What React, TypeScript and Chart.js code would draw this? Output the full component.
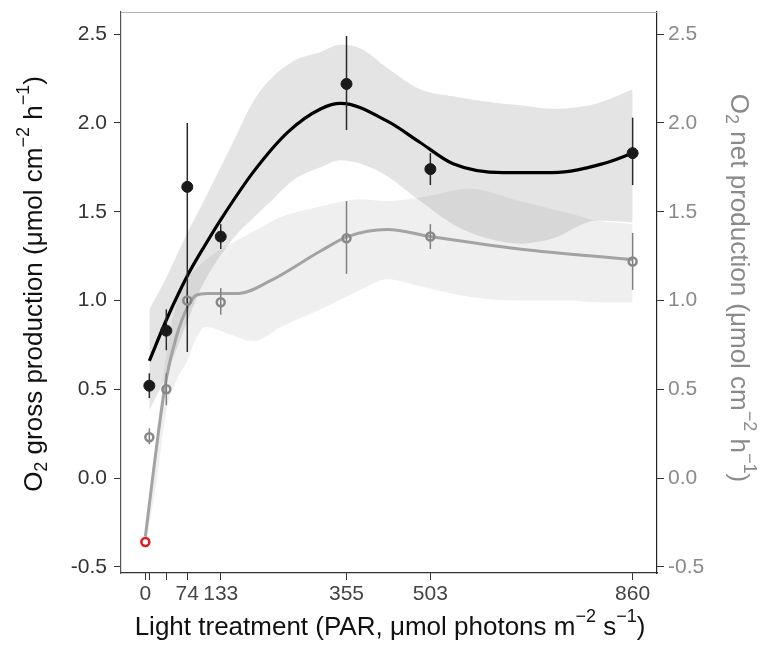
import React, { useEffect, useRef } from 'react';
import { Chart, registerables } from 'chart.js';

Chart.register(...registerables);

// ---- Data ----
const lightLevels = [7, 37, 74, 133, 355, 503, 860];
const grossMean = [0.52, 0.83, 1.64, 1.36, 2.22, 1.74, 1.83];
const grossLow = [0.45, 0.72, 0.71, 1.29, 1.96, 1.65, 1.65];
const grossHigh = [0.59, 0.95, 2.0, 1.43, 2.49, 1.83, 2.03];

const netMean = [0.23, 0.5, 1.0, 0.99, 1.35, 1.36, 1.22];
const netLow = [0.19, 0.41, 0.94, 0.92, 1.15, 1.29, 1.06];
const netHigh = [0.28, 0.59, 1.06, 1.07, 1.56, 1.43, 1.38];

const outlierX = [0];
const outlierY = [-0.36];

const grossFitX = [7, 37, 76, 105, 134, 192, 252, 310, 345, 427, 485, 543, 631, 719, 807, 860];
const grossFitY = [0.66, 0.89, 1.15, 1.31, 1.46, 1.73, 1.95, 2.08, 2.11, 2.01, 1.89, 1.77, 1.72, 1.72, 1.77, 1.83];

const netFitX = [0, 12, 24, 37, 55, 74, 90, 110, 165, 220, 310, 357, 427, 503, 660, 860];
const netFitY = [-0.33, -0.02, 0.28, 0.56, 0.8, 0.96, 1.03, 1.04, 1.04, 1.11, 1.28, 1.36, 1.4, 1.36, 1.29, 1.23];

const grossBandX = [7, 37, 74, 100, 150, 192, 222, 262, 309, 344, 380, 427, 485, 543, 603, 662, 720, 797, 860];
const grossBandHigh = [0.95, 1.13, 1.38, 1.54, 1.86, 2.13, 2.25, 2.35, 2.4, 2.44, 2.42, 2.31, 2.19, 2.15, 2.12, 2.1, 2.08, 2.11, 2.19];
const grossBandLow = [0.38, 0.58, 0.88, 1.08, 1.33, 1.47, 1.56, 1.68, 1.75, 1.79, 1.77, 1.7, 1.56, 1.43, 1.35, 1.32, 1.35, 1.45, 1.44];

const netBandX = [0, 20, 37, 55, 74, 90, 107, 140, 192, 239, 309, 380, 427, 485, 573, 661, 749, 797, 860];
const netBandHigh = [-0.28, 0.24, 0.7, 0.98, 1.12, 1.18, 1.23, 1.3, 1.39, 1.47, 1.53, 1.57, 1.56, 1.58, 1.63, 1.56, 1.49, 1.45, 1.43];
const netBandLow = [-0.38, -0.02, 0.38, 0.55, 0.66, 0.79, 0.85, 0.82, 0.77, 0.85, 0.95, 1.06, 1.12, 1.08, 1.02, 1.0, 1.0, 0.99, 0.99];

const xTickValues = [0, 7, 37, 74, 133, 355, 503, 860];
const xTickLabels = [0, 74, 133, 355, 503, 860];
const yTickValues = [-0.5, 0, 0.5, 1.0, 1.5, 2.0, 2.5];

type Part = { t: string; s?: 'sup' | 'sub' };
const xTitle: Part[] = [
  { t: 'Light treatment (PAR, \u03bcmol photons m' },
  { t: '\u22122', s: 'sup' },
  { t: ' s' },
  { t: '\u22121', s: 'sup' },
  { t: ')' },
];
const yLeftTitle: Part[] = [
  { t: 'O' },
  { t: '2', s: 'sub' },
  { t: ' gross production (\u03bcmol cm' },
  { t: '\u22122', s: 'sup' },
  { t: ' h' },
  { t: '\u22121', s: 'sup' },
  { t: ')' },
];
const yRightTitle: Part[] = [
  { t: 'O' },
  { t: '2', s: 'sub' },
  { t: ' net production (\u03bcmol cm' },
  { t: '\u22122', s: 'sup' },
  { t: ' h' },
  { t: '\u22121', s: 'sup' },
  { t: ')' },
];

const FONT = '"Liberation Sans", Arial, sans-serif';

function zip(xs: number[], ys: number[]) {
  return xs.map((x, i) => ({ x, y: ys[i] }));
}

function drawRich(
  ctx: CanvasRenderingContext2D,
  parts: Part[],
  x: number,
  y: number,
  angle: number,
  size: number,
  color: string
) {
  const big = `${size}px ${FONT}`;
  const small = `${Math.round(size * 0.68)}px ${FONT}`;
  ctx.save();
  ctx.translate(x, y);
  ctx.rotate(angle);
  let w = 0;
  for (const p of parts) {
    ctx.font = p.s ? small : big;
    w += ctx.measureText(p.t).width;
  }
  let cx = -w / 2;
  ctx.fillStyle = color;
  ctx.textBaseline = 'middle';
  ctx.textAlign = 'left';
  for (const p of parts) {
    ctx.font = p.s ? small : big;
    const dy = p.s === 'sup' ? -size * 0.42 : p.s === 'sub' ? size * 0.28 : 0;
    ctx.fillText(p.t, cx, dy);
    cx += ctx.measureText(p.t).width;
  }
  ctx.restore();
}

const NET_PTS_INDEX = 7;

const extrasPlugin = {
  id: 'extras',
  beforeDatasetDraw(chart: any, args: any) {
    if (args.index !== NET_PTS_INDEX) return;
    const { ctx, scales } = chart;
    const xs = scales.x;
    const ys = scales.y;
    ctx.save();
    ctx.lineWidth = 1.5;
    ctx.strokeStyle = '#7f7f7f';
    lightLevels.forEach((lv, i) => {
      const px = xs.getPixelForValue(lv);
      ctx.beginPath();
      ctx.moveTo(px, ys.getPixelForValue(netLow[i]));
      ctx.lineTo(px, ys.getPixelForValue(netHigh[i]));
      ctx.stroke();
    });
    ctx.strokeStyle = '#2a2a2a';
    lightLevels.forEach((lv, i) => {
      const px = xs.getPixelForValue(lv);
      ctx.beginPath();
      ctx.moveTo(px, ys.getPixelForValue(grossLow[i]));
      ctx.lineTo(px, ys.getPixelForValue(grossHigh[i]));
      ctx.stroke();
    });
    ctx.restore();
  },
  afterDraw(chart: any) {
    const { ctx, chartArea } = chart;
    ctx.save();
    ctx.strokeStyle = '#b5b5b5';
    ctx.lineWidth = 1;
    ctx.beginPath();
    ctx.moveTo(chartArea.left, chartArea.top + 0.5);
    ctx.lineTo(chartArea.right, chartArea.top + 0.5);
    ctx.stroke();
    ctx.restore();
    drawRich(ctx, xTitle, 390, 628, 0, 26, '#111');
    drawRich(ctx, yLeftTitle, 35, 284, -Math.PI / 2, 26, '#111');
    drawRich(ctx, yRightTitle, 738, 288, Math.PI / 2, 26, '#8a8a8a');
  },
};

const noPoint = { pointRadius: 0, pointHoverRadius: 0 };

export default function App() {
  const ref = useRef<HTMLCanvasElement | null>(null);
  useEffect(() => {
    document.body.style.margin = '0';
    if (!ref.current) return;
    const yCommon = (position: 'left' | 'right', color: string, width: number, pad: number) => ({
      type: 'linear' as const,
      position,
      min: -0.535,
      max: 2.625,
      afterBuildTicks: (scale: any) => {
        scale.ticks = yTickValues.map((v) => ({ value: v }));
      },
      afterFit: (scale: any) => {
        scale.width = width;
        scale.paddingTop = 0;
        scale.paddingBottom = 0;
      },
      ticks: {
        color,
        font: { family: FONT, size: 21 },
        padding: pad,
        callback: (v: any) => Number(v).toFixed(1),
      },
      grid: { display: true, drawOnChartArea: false, drawTicks: true, tickLength: 7, color: '#333', lineWidth: 1 },
      border: { display: true, color: position === 'left' ? '#555' : '#222', width: 1.2 },
    });

    const chart = new Chart(ref.current, {
      type: 'line',
      data: {
        datasets: [
          // 0: net band lower
          {
            data: zip(netBandX, netBandLow),
            borderWidth: 0,
            borderColor: 'rgba(0,0,0,0)',
            fill: false,
            cubicInterpolationMode: 'monotone',
            order: 10,
            ...noPoint,
          } as any,
          // 1: net band upper
          {
            data: zip(netBandX, netBandHigh),
            borderWidth: 0,
            borderColor: 'rgba(0,0,0,0)',
            backgroundColor: 'rgba(150,150,150,0.15)',
            fill: { target: 0 },
            cubicInterpolationMode: 'monotone',
            order: 9,
            ...noPoint,
          } as any,
          // 2: gross band lower
          {
            data: zip(grossBandX, grossBandLow),
            borderWidth: 0,
            borderColor: 'rgba(0,0,0,0)',
            fill: false,
            cubicInterpolationMode: 'monotone',
            order: 8,
            ...noPoint,
          } as any,
          // 3: gross band upper
          {
            data: zip(grossBandX, grossBandHigh),
            borderWidth: 0,
            borderColor: 'rgba(0,0,0,0)',
            backgroundColor: 'rgba(120,120,120,0.2)',
            fill: { target: 2 },
            cubicInterpolationMode: 'monotone',
            order: 7,
            ...noPoint,
          } as any,
          // 4: net fit
          {
            data: zip(netFitX, netFitY),
            borderColor: '#a3a3a3',
            borderWidth: 3,
            fill: false,
            cubicInterpolationMode: 'monotone',
            order: 5,
            ...noPoint,
          } as any,
          // 5: gross fit
          {
            data: zip(grossFitX, grossFitY),
            borderColor: '#000',
            borderWidth: 3.2,
            fill: false,
            cubicInterpolationMode: 'monotone',
            order: 4,
            ...noPoint,
          } as any,
          // 6: gross points
          {
            data: zip(lightLevels, grossMean),
            showLine: false,
            pointRadius: 5.5,
            pointBackgroundColor: '#1a1a1a',
            pointBorderColor: '#1a1a1a',
            pointBorderWidth: 1,
            order: 0,
          } as any,
          // 7: net points
          {
            data: zip(lightLevels, netMean),
            showLine: false,
            pointRadius: 4,
            pointBackgroundColor: 'rgba(0,0,0,0)',
            pointBorderColor: '#888',
            pointBorderWidth: 2.5,
            order: 1,
          } as any,
          // 8: outlier
          {
            data: zip(outlierX, outlierY),
            showLine: false,
            pointRadius: 4,
            pointBackgroundColor: 'rgba(0,0,0,0)',
            pointBorderColor: '#e31a1c',
            pointBorderWidth: 2.5,
            order: 0,
          } as any,
        ],
      },
      options: {
        animation: false,
        responsive: true,
        maintainAspectRatio: false,
        layout: { padding: { top: 12, left: 0, right: 0, bottom: 0 } },
        plugins: {
          legend: { display: false },
          tooltip: { enabled: false },
        },
        scales: {
          x: {
            type: 'linear',
            position: 'bottom',
            min: -43,
            max: 903,
            afterBuildTicks: (scale: any) => {
              scale.ticks = xTickValues.map((v) => ({ value: v }));
            },
            afterFit: (scale: any) => {
              scale.height = 77;
              scale.paddingLeft = 0;
              scale.paddingRight = 0;
            },
            ticks: {
              color: '#444',
              autoSkip: false,
              maxRotation: 0,
              font: { family: FONT, size: 21 },
              padding: 2,
              callback: (v: any) => (xTickLabels.includes(Number(v)) ? String(v) : ''),
            },
            grid: { display: true, drawOnChartArea: false, drawTicks: true, tickLength: 7, color: '#333', lineWidth: 1 },
            border: { display: true, color: '#333', width: 1.2 },
          },
          y: yCommon('left', '#333', 121, 7),
          y2: yCommon('right', '#8a8a8a', 104, 4),
        },
      } as any,
      plugins: [extrasPlugin],
    });
    return () => chart.destroy();
  }, []);

  return (
    <div style={{ width: 761, height: 650, position: 'relative' }}>
      <canvas ref={ref} />
    </div>
  );
}
